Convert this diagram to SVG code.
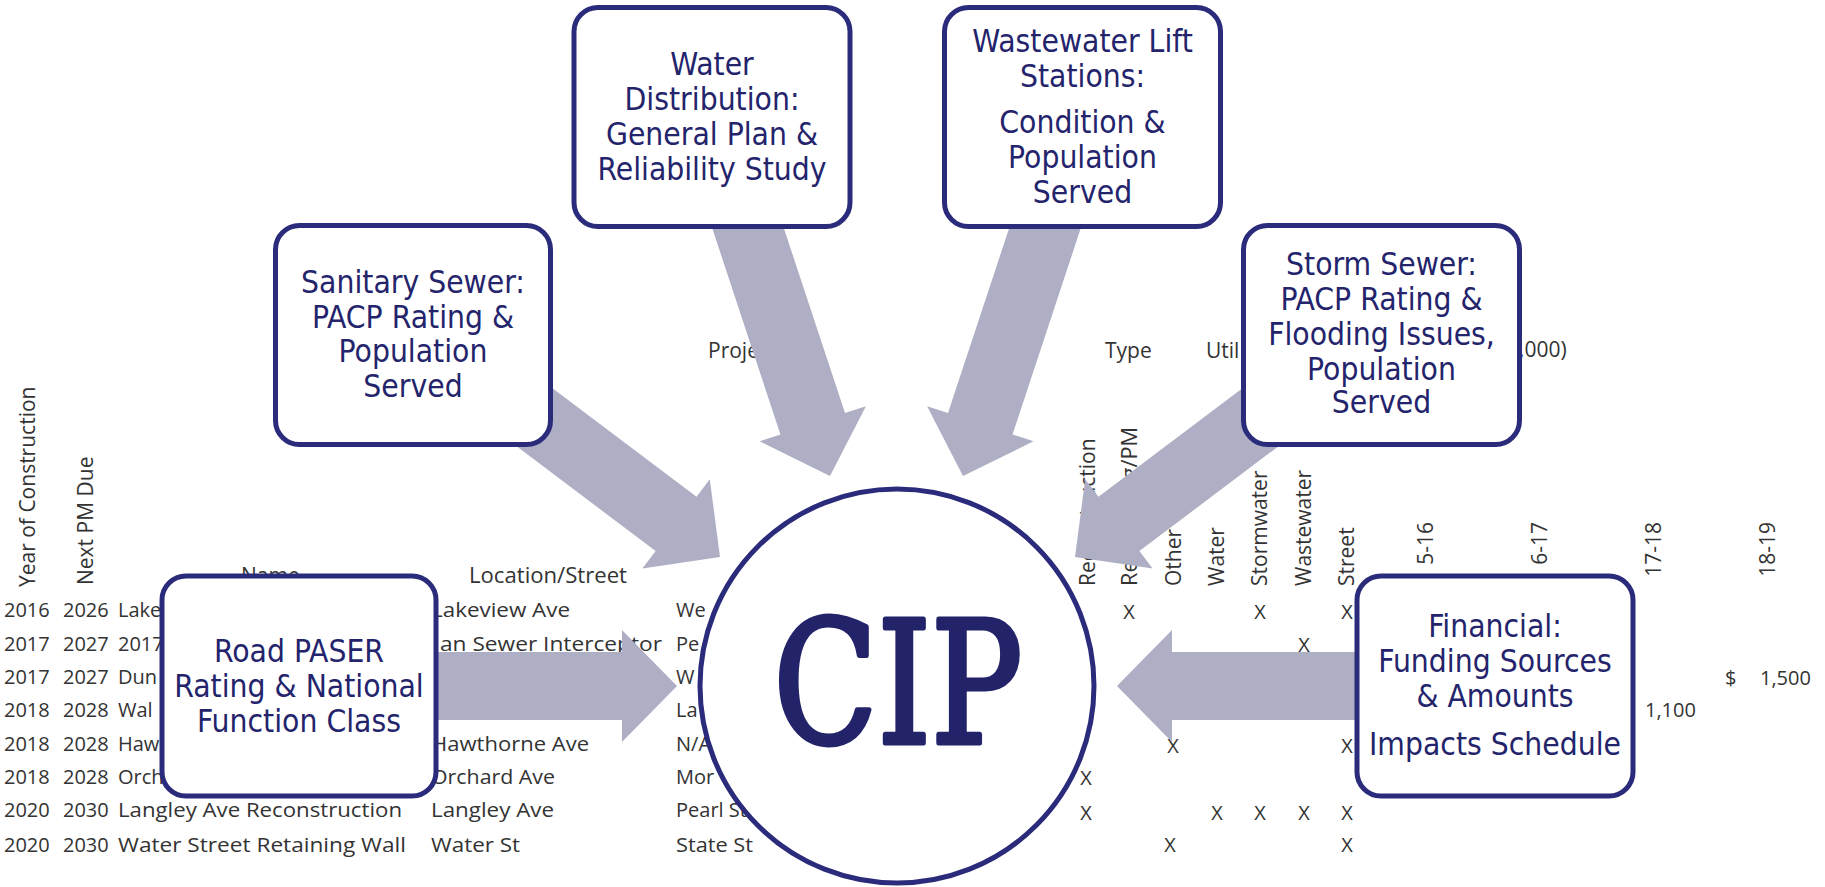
<svg xmlns="http://www.w3.org/2000/svg" width="1825" height="887" viewBox="0 0 1825 887">
<style>
.tb{font-family:"Open Sans","Liberation Sans",sans-serif;font-size:20px;fill:#333}
.th{font-family:"Open Sans","Liberation Sans",sans-serif;font-size:21px;fill:#333}
.x{text-anchor:middle}
.e{text-anchor:end}
.box{fill:#fff;stroke:#2b2b7b;stroke-width:5}
.lbl{font-family:"DejaVu Sans Condensed","DejaVu Sans",sans-serif;font-stretch:condensed;font-size:31.5px;fill:#24246c;text-anchor:middle}
.arrow{fill:#aeaec5}
.cip{font-family:"DejaVu Serif Condensed","DejaVu Serif",serif;font-stretch:condensed;font-size:170px;fill:#23236a;stroke:#23236a;stroke-width:5;stroke-linejoin:round;text-anchor:middle}
</style>
<defs>
<polygon id="arr" points="-330,-34 -55,-34 -55,-56 0,0 -55,56 -55,34 -330,34"/>
</defs>
<rect width="1825" height="887" fill="#fff"/>
<g id="table">
<text class="th" transform="translate(35,587) rotate(-90)">Year of Construction</text>
<text class="th" transform="translate(93,585) rotate(-90)">Next PM Due</text>
<text class="th" x="241" y="583">Name</text>
<text class="th" x="469" y="583" textLength="158" lengthAdjust="spacingAndGlyphs">Location/Street</text>
<text class="th" x="708" y="358">Proje</text>
<text class="th" x="1105" y="358">Type</text>
<text class="th" x="1206" y="358">Util</text>
<text class="th" x="1519" y="357">,000)</text>
<text class="th" transform="translate(1095,586) rotate(-90)">Reconstruction</text>
<text class="th" transform="translate(1137,586) rotate(-90)" textLength="159" lengthAdjust="spacingAndGlyphs">Resurfacing/PM</text>
<text class="th" transform="translate(1181,586) rotate(-90)">Other</text>
<text class="th" transform="translate(1224,586) rotate(-90)">Water</text>
<text class="th" transform="translate(1267,586) rotate(-90)">Stormwater</text>
<text class="th" transform="translate(1311,586) rotate(-90)">Wastewater</text>
<text class="th" transform="translate(1354,586) rotate(-90)">Street</text>
<text class="th e" transform="translate(1433,522) rotate(-90)">5-16</text>
<text class="th e" transform="translate(1547,522) rotate(-90)">6-17</text>
<text class="th e" transform="translate(1661,522) rotate(-90)">17-18</text>
<text class="th e" transform="translate(1775,522) rotate(-90)">18-19</text>

<text class="tb" x="4" y="617">2016</text><text class="tb" x="63" y="617">2026</text><text class="tb" x="118" y="617">Lake</text>
<text class="tb" x="431" y="617" textLength="139" lengthAdjust="spacingAndGlyphs">Lakeview Ave</text><text class="tb" x="676" y="617">We</text>
<text class="tb x" x="1129" y="619">X</text><text class="tb x" x="1260" y="619">X</text><text class="tb x" x="1347" y="619">X</text>

<text class="tb" x="4" y="651">2017</text><text class="tb" x="63" y="651">2027</text><text class="tb" x="118" y="651">2017</text>
<text class="tb" x="440" y="651" textLength="222" lengthAdjust="spacingAndGlyphs">an Sewer Interceptor</text><text class="tb" x="676" y="651">Pe</text>
<text class="tb x" x="1304" y="652">X</text>

<text class="tb" x="4" y="684">2017</text><text class="tb" x="63" y="684">2027</text><text class="tb" x="118" y="684">Dun</text>
<text class="tb" x="676" y="684">W</text>
<text class="tb" x="1725" y="685">$</text><text class="tb" x="1760" y="685">1,500</text>

<text class="tb" x="4" y="717">2018</text><text class="tb" x="63" y="717">2028</text><text class="tb" x="118" y="717">Wal</text>
<text class="tb" x="676" y="717">La</text>
<text class="tb" x="1645" y="717">1,100</text>

<text class="tb" x="4" y="751">2018</text><text class="tb" x="63" y="751">2028</text><text class="tb" x="118" y="751">Haw</text>
<text class="tb" x="431" y="751" textLength="158" lengthAdjust="spacingAndGlyphs">Hawthorne Ave</text><text class="tb" x="676" y="751">N/A</text>
<text class="tb x" x="1173" y="753">X</text><text class="tb x" x="1347" y="753">X</text>

<text class="tb" x="4" y="784">2018</text><text class="tb" x="63" y="784">2028</text><text class="tb" x="118" y="784">Orch</text>
<text class="tb" x="431" y="784" textLength="124" lengthAdjust="spacingAndGlyphs">Orchard Ave</text><text class="tb" x="676" y="784">Mor</text>
<text class="tb x" x="1086" y="785">X</text>

<text class="tb" x="4" y="817">2020</text><text class="tb" x="63" y="817">2030</text><text class="tb" x="118" y="817" textLength="284" lengthAdjust="spacingAndGlyphs">Langley Ave Reconstruction</text>
<text class="tb" x="431" y="817" textLength="123" lengthAdjust="spacingAndGlyphs">Langley Ave</text><text class="tb" x="676" y="817">Pearl St</text>
<text class="tb x" x="1086" y="820">X</text><text class="tb x" x="1217" y="820">X</text><text class="tb x" x="1260" y="820">X</text><text class="tb x" x="1304" y="820">X</text><text class="tb x" x="1347" y="820">X</text>

<text class="tb" x="4" y="852">2020</text><text class="tb" x="63" y="852">2030</text><text class="tb" x="118" y="852" textLength="288" lengthAdjust="spacingAndGlyphs">Water Street Retaining Wall</text>
<text class="tb" x="431" y="852" textLength="89" lengthAdjust="spacingAndGlyphs">Water St</text><text class="tb" x="676" y="852" textLength="77" lengthAdjust="spacingAndGlyphs">State St</text>
<text class="tb x" x="1170" y="852">X</text><text class="tb x" x="1347" y="852">X</text>
</g>
<g id="connectors" class="arrow">
<use href="#arr" transform="translate(677,686)"/>
<use href="#arr" transform="translate(1117,686) rotate(180)"/>
<use href="#arr" transform="translate(830,476) rotate(71.7)"/>
<use href="#arr" transform="translate(963,476) rotate(108.3)"/>
<use href="#arr" transform="translate(720,557) rotate(37)"/>
<use href="#arr" transform="translate(1075,557) rotate(143)"/>
</g>
<g id="water">
<rect class="box" x="574" y="7.5" width="276" height="219" rx="24"/>
<text class="lbl"><tspan x="712" y="75">Water</tspan><tspan x="712" y="110">Distribution:</tspan><tspan x="712" y="145">General Plan &amp;</tspan><tspan x="712" y="180">Reliability Study</tspan></text>
</g>
<g id="wastewater">
<rect class="box" x="944.5" y="7.5" width="276" height="219" rx="24"/>
<text class="lbl"><tspan x="1082.5" y="52">Wastewater Lift</tspan><tspan x="1082.5" y="87">Stations:</tspan><tspan x="1082.5" y="133">Condition &amp;</tspan><tspan x="1082.5" y="168">Population</tspan><tspan x="1082.5" y="203">Served</tspan></text>
</g>
<g id="sanitary">
<rect class="box" x="275.5" y="225.5" width="275" height="219" rx="24"/>
<text class="lbl"><tspan x="413" y="293">Sanitary Sewer:</tspan><tspan x="413" y="328">PACP Rating &amp;</tspan><tspan x="413" y="362">Population</tspan><tspan x="413" y="397">Served</tspan></text>
</g>
<g id="storm">
<rect class="box" x="1243.5" y="225.5" width="276" height="219" rx="24"/>
<text class="lbl"><tspan x="1381.5" y="275">Storm Sewer:</tspan><tspan x="1381.5" y="310">PACP Rating &amp;</tspan><tspan x="1381.5" y="345">Flooding Issues,</tspan><tspan x="1381.5" y="380">Population</tspan><tspan x="1381.5" y="413">Served</tspan></text>
</g>
<g id="road">
<rect class="box" x="162" y="576" width="274" height="220" rx="24"/>
<text class="lbl"><tspan x="299" y="662">Road PASER</tspan><tspan x="299" y="697">Rating &amp; National</tspan><tspan x="299" y="732">Function Class</tspan></text>
</g>
<g id="financial">
<rect class="box" x="1357" y="576" width="276" height="220" rx="24"/>
<text class="lbl"><tspan x="1495" y="637">Financial:</tspan><tspan x="1495" y="672">Funding Sources</tspan><tspan x="1495" y="707">&amp; Amounts</tspan><tspan x="1495" y="755">Impacts Schedule</tspan></text>
</g>
<g id="cip">
<circle class="box" cx="897" cy="686" r="197"/>
<text class="cip" x="898" y="743" textLength="249" lengthAdjust="spacingAndGlyphs">CIP</text>
</g>
</svg>
